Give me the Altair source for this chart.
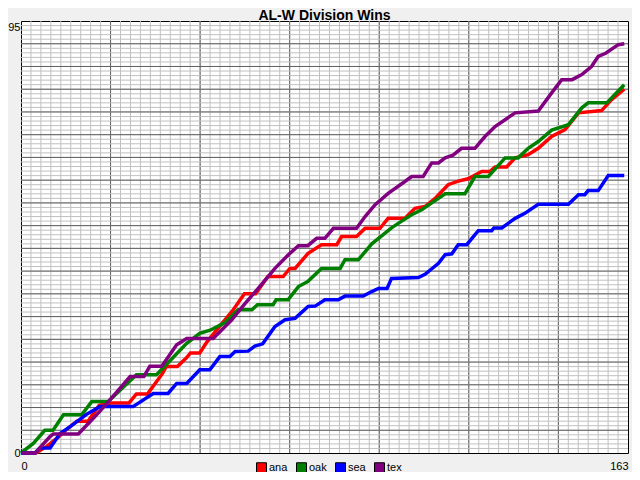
import altair as alt
import pandas as pd

TITLE = "AL-W Division Wins"
teams = ["ana", "oak", "sea", "tex"]
team_colors = ["#ff0000", "#008000", "#0000ff", "#800080"]
x_ticks = [0, 163]
y_ticks = [0, 95]

ana_games = [0, 4, 7, 10, 12, 15, 18, 21, 24, 29, 31, 34, 38, 39, 42, 44.5, 45.5, 48, 50, 54, 57, 60, 63,
             66.3, 70.4, 72.2, 73.6, 77.1, 80.7, 84.8, 86.1, 90.1, 92.4, 96.4, 98.6, 103.1, 105.8, 108.5,
             111.2, 114.7, 117.4, 120.1, 123.7, 125.9, 127.3, 130.4, 132.7, 136.2, 138.9, 142.5, 146.1,
             149.7, 155.9, 158.6, 162]
ana_wins = [0, 0, 1.5, 3.5, 5, 7, 7, 10.5, 11, 11, 13, 13, 17.5, 19, 19, 21, 22, 22, 24.5, 28.5, 31.5, 35, 35,
            38.8, 38.8, 40.6, 40.6, 43.9, 45.8, 45.8, 47.6, 47.6, 49.4, 49.4, 51.6, 51.6, 53.8, 54.2,
            56, 59, 59.8, 60.3, 61.9, 61.9, 62.9, 62.9, 64.9, 65.6, 67, 69.6, 71.1,
            74.8, 75.3, 77.7, 80]

oak_games = [0, 3.3, 6.4, 8.6, 11.4, 16.3, 19, 23.4, 31, 36.4, 44.5, 48, 50.8, 54.8, 58.3, 62, 63.5, 67.7,
             68.5, 71.7, 74.5, 77, 80.7, 85.7, 87, 90.6, 94.2, 99.5, 101.3, 104.9, 107.6, 111.2, 113.9,
             119.2, 121.9, 125.5, 130, 133.5, 136.2, 138.9, 142.5, 147, 150.6, 152.3, 157.3, 162]
oak_wins = [0, 2.1, 5, 5, 8.4, 8.4, 11.3, 11.3, 17.2, 17.2, 24.1, 26.3, 27, 28.7, 31.5, 31.5, 32.6, 32.6,
            33.7, 33.7, 36.6, 37.7, 40.6, 40.6, 42.5, 42.5, 46, 49.5, 50.5, 52.4, 53.5, 55.5, 57,
            57, 60.8, 60.8, 64.9, 64.9, 67, 68.5, 71, 72.2, 75.9, 77, 77, 81]

sea_games = [0, 3.8, 5.1, 7.8, 10.5, 13.2, 17.6, 21.2, 30.1, 35.5, 39.5, 41.8, 44.5, 48, 50.7, 53.4, 56.1,
             57.5, 61, 62.8, 64.9, 68.2, 70.9, 73.6, 77.1, 79, 81.6, 85.2, 87, 91.9, 94.2, 96, 98.3, 99.5,
             106.7, 108.5, 112.1, 113.9, 115.7, 117.4, 119.7, 122.8, 126.4, 127, 129.1, 132.7, 135.3,
             138.9, 147, 149.7, 151.4, 152.3, 155, 157.7, 162]
sea_wins = [0, 0, 1.1, 1.1, 4.3, 5.8, 8.5, 10.2, 10.2, 13.1, 13.1, 15.3, 15.3, 18.3, 18.3, 21.2, 21.2,
            22.3, 22.4, 23.5, 24, 27.8, 29.3, 29.6, 32.2, 32.3, 33.7, 33.7, 34.5, 34.5, 35.5, 36.2, 36.2, 38.4,
            38.6, 39.3, 41.7, 43.6, 43.8, 45.8, 45.8, 48.9, 48.9, 49.5, 49.5, 51.6, 52.7,
            54.7, 54.7, 56.8, 56.8, 57.7, 57.7, 61, 61]

tex_games = [0, 3.8, 7.8, 8.7, 15.4, 20.3, 23.9, 29.3, 33, 34.6, 37.8, 41.8, 44.5, 51.6, 56.6, 60.2, 63.7,
             68.2, 71.8, 74.5, 77, 79.4, 81.6, 83.9, 90.1, 92.4, 95.1, 98.6, 103.1, 104.9, 108, 110.3,
             112.1, 113.9, 116, 118.3, 121.9, 124.6, 127.3, 130, 132.7, 138.9, 142.5, 145.2, 148, 150.6,
             153.2, 155, 157, 160.4, 162]
tex_wins = [0, 0, 3.6, 4.2, 4.2, 8.4, 11.7, 16.8, 16.8, 19.1, 19.1, 23.8, 25.2, 25.2, 29.3, 32.9, 36.2,
            40.6, 43.6, 45.6, 45.6, 47.2, 47.2, 49.4, 49.4, 52, 54.6, 57.1, 59.7, 60.8, 60.8, 63.8,
            63.8, 64.9, 65.5, 67, 67, 69.6, 71.8, 73.3, 74.8, 75.2, 79.2, 82.1, 82.1, 83.2,
            85, 87.2, 87.9, 89.8, 90]

series = {
    "ana": (ana_games, ana_wins),
    "oak": (oak_games, oak_wins),
    "sea": (sea_games, sea_wins),
    "tex": (tex_games, tex_wins),
}

rows = []
for t in teams:
    g, w = series[t]
    for gi, wi in zip(g, w):
        rows.append({"team": t, "game": gi, "wins": wi})
df = pd.DataFrame(rows)

# grid positions (style)
n_div = 61
x_minor = [i * x_ticks[1] / n_div for i in range(1, n_div)]
x_major = [v for i, v in enumerate(x_minor, start=1) if i % 9 == 0]
y_minor = list(range(1, y_ticks[1]))
y_major = [v for v in y_minor if v % 5 == 0]

FONT = "Liberation Sans"
xs = alt.Scale(domain=x_ticks, nice=False, zero=False)
ys = alt.Scale(domain=y_ticks, nice=False, zero=False)

x_axis = alt.Axis(values=x_ticks, labelFlush=True, ticks=False, domain=False, grid=False,
                  title=None, labelPadding=7, labelFontSize=11, labelFont=FONT, labelColor="black")
y_axis = alt.Axis(values=y_ticks, ticks=False, domain=False, grid=False, title=None,
                  labelPadding=1, labelFontSize=11, labelFont=FONT, labelColor="black",
                  labelBaseline={"condition": {"test": "datum.value == 95", "value": "top"},
                                 "value": "middle"})

vminor = alt.Chart(pd.DataFrame({"x": x_minor})).mark_rule(color="#c0c0c0", strokeWidth=1).encode(
    x=alt.X("x:Q", scale=xs, axis=x_axis))
vmajor = alt.Chart(pd.DataFrame({"x": x_major})).mark_rule(color="#606060", strokeWidth=1).encode(
    x=alt.X("x:Q", scale=xs, axis=x_axis))
hminor = alt.Chart(pd.DataFrame({"y": y_minor})).mark_rule(color="#c0c0c0", strokeWidth=1).encode(
    y=alt.Y("y:Q", scale=ys, axis=y_axis))
hmajor = alt.Chart(pd.DataFrame({"y": y_major})).mark_rule(color="#606060", strokeWidth=1).encode(
    y=alt.Y("y:Q", scale=ys, axis=y_axis))

lines = alt.Chart(df).mark_line(strokeWidth=3.5, strokeJoin="miter").encode(
    x=alt.X("game:Q", scale=xs, axis=x_axis),
    y=alt.Y("wins:Q", scale=ys, axis=y_axis),
    stroke=alt.Stroke("team:N", scale=alt.Scale(range=team_colors), legend=None),
    detail="team:N",
)

legend_df = pd.DataFrame({"team": teams, "game": [0] * 4, "wins": [0] * 4})
keys = alt.Chart(legend_df).mark_square(size=0, stroke="black", filled=True).encode(
    x=alt.X("game:Q", scale=xs, axis=x_axis),
    y=alt.Y("wins:Q", scale=ys, axis=y_axis),
    fill=alt.Fill("team:N", scale=alt.Scale(domain=teams, range=team_colors),
                  legend=alt.Legend(title=None, orient="none", legendX=235, legendY=441,
                                    direction="horizontal", symbolType="square", symbolSize=100,
                                    symbolStrokeColor="black", symbolStrokeWidth=1,
                                    symbolOpacity=1,
                                    labelFont=FONT, labelFontSize=11, labelColor="black",
                                    labelOffset=2, columnPadding=6, padding=0)),
)

chart = alt.layer(vminor, vmajor, hminor, hmajor, lines, keys).properties(
    width=607, height=432,
    title=alt.TitleParams(TITLE, font=FONT, fontSize=14, fontWeight="bold", color="black",
                          anchor="middle", offset=-2.5),
    autosize=alt.AutoSizeParams(type="none"),
    padding={"left": 13, "top": 13, "right": 4, "bottom": 19},
    background="#f0f0f0",
).configure_view(stroke="black", strokeWidth=1, fill="white")

chart.save("out.html", embed_options={"renderer": "svg", "actions": False})
